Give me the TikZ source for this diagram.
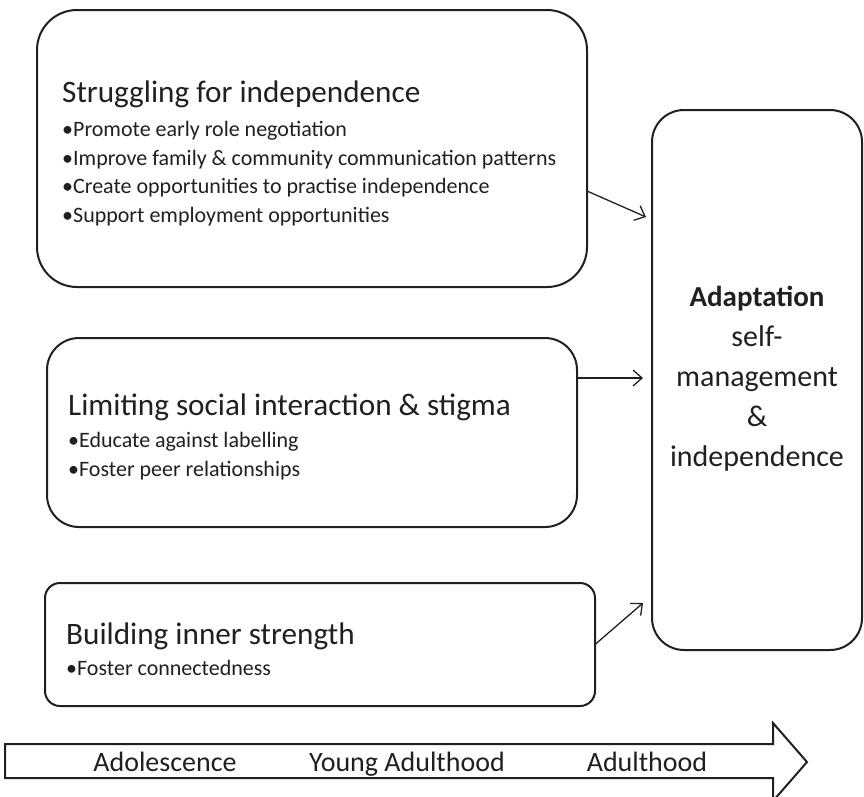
\documentclass[tikz,border=0pt]{standalone}
\usepackage{fontspec}
\setmainfont{Carlito}
\usetikzlibrary{arrows.meta}
\definecolor{ink}{HTML}{231F20}
\tikzset{
  rbox/.style={draw=ink, line width=2pt, fill=white, rectangle, inner sep=0pt, outer sep=0pt},
  conn/.style={draw=ink, line width=1.3pt, -{Straight Barb[length=9pt,width=16pt,line width=1.3pt]}},
  ttl/.style={anchor=base west, inner sep=0pt, font=\fontsize{31.2}{35}\selectfont, text=ink},
  bul/.style={anchor=base west, inner sep=0pt, font=\fontsize{22}{26}\selectfont, text=ink},
  rtxt/.style={anchor=base, inner sep=0pt, font=\fontsize{30}{34}\selectfont, text=ink},
  ttxt/.style={anchor=base, inner sep=0pt, font=\fontsize{28}{32}\selectfont, text=ink},
}
\begin{document}
\begin{tikzpicture}[x=1pt,y=-1pt]
\useasboundingbox (0,0) rectangle (864,796);
% boxes
\node[rbox, rounded corners=40pt, minimum width=550pt, minimum height=277pt] (b1) at (312,148.5) {};
\node[rbox, rounded corners=32pt, minimum width=530pt, minimum height=189pt] (b2) at (312,432.5) {};
\node[rbox, rounded corners=15pt, minimum width=550pt, minimum height=123pt] (b3) at (320,644.5) {};
\node[rbox, rounded corners=32pt, minimum width=210pt, minimum height=540pt] (rb) at (757,380) {};
\coordinate (b1e) at ([yshift=-42.5pt]b1.east);
\coordinate (b2e) at ([yshift=54.5pt]b2.east);
\coordinate (b3e) at ([yshift=0pt]b3.east);
\coordinate (r1) at ([xshift=-6pt,yshift=163pt]rb.west);
\coordinate (r2) at ([xshift=-9pt,yshift=2pt]rb.west);
\coordinate (r3) at ([xshift=-9pt,yshift=-223pt]rb.west);
% box 1 text
\node[ttl] (t1) at (62,102) {Struggling for independence};
\node[bul] (t1a) at (62,136) {•Promote early role negotiation};
\node[bul] (t1b) at (62,165) {•Improve family \& community communication patterns};
\node[bul] (t1c) at (62,193) {•Create opportunities to practise independence};
\node[bul] (t1d) at (62,222) {•Support employment opportunities};
% box 2 text
\node[ttl] (t2) at (68,415) {Limiting social interaction \& stigma};
\node[bul] (t2a) at (68,447) {•Educate against labelling};
\node[bul] (t2b) at (68,476) {•Foster peer relationships};
% box 3 text
\node[ttl] (t3) at (66,644) {Building inner strength};
\node[bul] (t3a) at (66,675) {•Foster connectedness};
% right box text
\node[rtxt, font=\fontsize{29}{33}\selectfont\bfseries] (ra) at (757,306) {Adaptation};
\node[rtxt] (rbb) at (757,346) {self-};
\node[rtxt] (rc) at (757,386) {management};
\node[rtxt] (rd) at (757,426) {\&};
\node[rtxt] (re) at (757,466) {independence};
% connectors
\draw[conn] (b1e) -- (r1);
\draw[conn] (b2e) -- (r2);
\draw[conn] (b3e) -- (r3);
% timeline arrow
\draw[draw=ink, line width=2pt, fill=white] (5,744) -- (773,744) -- (773,723) -- (807,762) -- (773,801) -- (773,778) -- (5,778) -- cycle;
\node[ttxt] (ad) at (165,771) {Adolescence};
\node[ttxt] (ya) at (407,771) {Young Adulthood};
\node[ttxt] (ah) at (647,771) {Adulthood};
\end{tikzpicture}
\end{document}
